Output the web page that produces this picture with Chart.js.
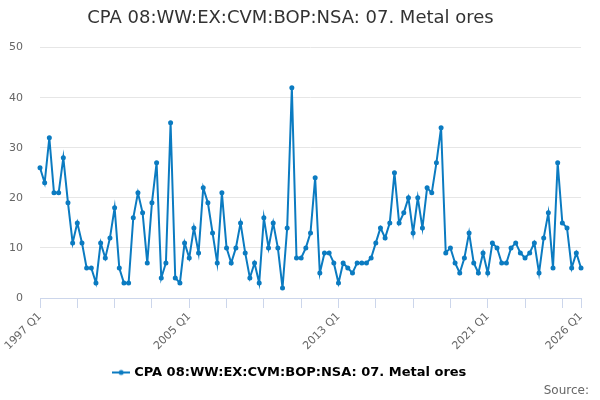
<!DOCTYPE html>
<html>
<head>
<meta charset="utf-8">
<script src="https://cdn.jsdelivr.net/npm/chart.js@4"></script>
<style>
  html, body { margin: 0; padding: 0; background: #fff; }
  #wrap { position: relative; width: 600px; height: 400px; }
  #source { position: absolute; right: 11px; top: 383px; font: 12px "DejaVu Sans", sans-serif; color: #666; }
</style>
</head>
<body>
<div id="wrap">
  <canvas id="chart" width="600" height="400"></canvas>
  <div id="source">Source:</div>
</div>
<script>
// quarterly series, 1997 Q1 .. 2026 Q1
const startYear = 1997;
const values = [
  26, 23, 32, 21, 21, 28, 19, 11, 15, 11, 6, 6, 3, 11, 8, 12,
  18, 6, 3, 3, 16, 21, 17, 7, 19, 27, 4, 7, 35, 4, 3, 11,
  8, 14, 9, 22, 19, 13, 7, 21, 10, 7, 10, 15, 9, 4, 7, 3,
  16, 10, 15, 10, 2, 14, 42, 8, 8, 10, 13, 24, 5, 9, 9, 7,
  3, 7, 6, 5, 7, 7, 7, 8, 11, 14, 12, 15, 25, 15, 17, 20,
  13, 20, 14, 22, 21, 27, 34, 9, 10, 7, 5, 8, 13, 7, 5, 9,
  5, 11, 10, 7, 7, 10, 11, 9, 8, 9, 11, 5, 12, 17, 6, 27,
  15, 14, 6, 9, 6
];
const seriesName = 'CPA 08:WW:EX:CVM:BOP:NSA: 07. Metal ores';
const tickLabels = ['1997 Q1', '2005 Q1', '2013 Q1', '2021 Q1', '2026 Q1'];
const yTicks = [0, 10, 20, 30, 40, 50];

const quarters = values.map((_, i) => (startYear + Math.floor(i / 4)) + ' Q' + (i % 4 + 1));

const lineColor = '#0b7bc1';

// legend symbol: short line with a dot
function legendIcon() {
  const c = document.createElement('canvas');
  c.width = 18; c.height = 8;
  const g = c.getContext('2d');
  g.strokeStyle = lineColor; g.lineWidth = 2;
  g.beginPath(); g.moveTo(0, 4); g.lineTo(18, 4); g.stroke();
  g.fillStyle = lineColor;
  g.beginPath(); g.arc(9, 4, 2.5, 0, Math.PI * 2); g.fill();
  return c;
}

const font = '"DejaVu Sans", sans-serif';

new Chart(document.getElementById('chart'), {
  type: 'line',
  data: {
    labels: quarters,
    datasets: [{
      label: seriesName,
      data: values,
      borderColor: lineColor,
      backgroundColor: lineColor,
      borderWidth: 2,
      pointRadius: 2.5,
      pointStyle: 'circle',
      pointBackgroundColor: lineColor,
      pointBorderWidth: 0,
      tension: 0
    }]
  },
  options: {
    responsive: false,
    animation: false,
    layout: { padding: { left: 0, right: 19, top: 0, bottom: 11 } },
    plugins: {
      title: {
        display: true,
        text: seriesName,
        color: '#333',
        font: { family: font, size: 18, weight: 'normal' },
        padding: { top: 8, bottom: 18 }
      },
      legend: {
        position: 'bottom',
        labels: {
          usePointStyle: true,
          color: '#333',
          font: { family: font, size: 13, weight: 'bold' },
          padding: 10,
          generateLabels: () => [{
            text: seriesName,
            pointStyle: legendIcon(),
            fillStyle: lineColor,
            strokeStyle: lineColor,
            lineWidth: 0,
            datasetIndex: 0
          }]
        }
      },
      tooltip: { enabled: false }
    },
    scales: {
      x: {
        type: 'category',
        offset: false,
        grid: { drawOnChartArea: false, drawTicks: true, tickLength: 10, color: '#ccd6eb' },
        border: { color: '#ccd6eb' },
        ticks: {
          autoSkip: false,
          minRotation: 45,
          maxRotation: 45,
          color: '#666',
          font: { family: font, size: 11 },
          padding: 2,
          callback: (v) => tickLabels.includes(quarters[v]) ? quarters[v] : ''
        },
        afterBuildTicks: (scale) => {
          const t = [];
          for (let i = 0; i < quarters.length; i += 8) t.push({ value: i });
          if (t[t.length - 1].value !== quarters.length - 1) t.push({ value: quarters.length - 1 });
          scale.ticks = t;
        },
        afterFit: (scale) => { scale.height = 58; }
      },
      y: {
        min: 0,
        max: 50,
        grid: { color: '#e6e6e6', drawTicks: false },
        border: { display: false },
        ticks: {
          color: '#666',
          font: { family: font, size: 11 },
          padding: 17
        },
        afterBuildTicks: (scale) => { scale.ticks = yTicks.map(v => ({ value: v })); },
        afterFit: (scale) => { scale.width = 40; }
      }
    }
  }
});
</script>
</body>
</html>
